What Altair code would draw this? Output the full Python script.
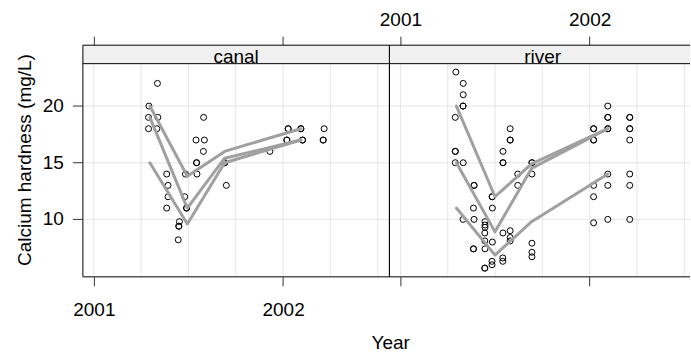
import altair as alt
import pandas as pd

FONT = "Liberation Sans"

# ---- canal sites: sampling date (decimal year) and calcium hardness (mg/L)
canal_year = [
    2001.291, 2001.289, 2001.289,
    2001.336, 2001.338, 2001.333,
    2001.385, 2001.392, 2001.392, 2001.385,
    2001.452, 2001.449, 2001.449, 2001.446,
    2001.484, 2001.480, 2001.490, 2001.490,
    2001.540, 2001.543, 2001.543, 2001.545,
    2001.580, 2001.584, 2001.579,
    2001.691, 2001.691, 2001.700,
    2001.930,
    2002.027, 2002.027, 2002.020, 2002.020,
    2002.094, 2002.094, 2002.103, 2002.103,
    2002.217, 2002.212, 2002.212,
]
canal_ca = [
    20, 19, 18,
    22, 19, 18,
    14, 13, 12, 11,
    9.8, 9.4, 9.4, 8.2,
    14, 12, 11, 11,
    17, 15, 15, 14,
    19, 17, 16,
    15, 15, 13,
    16,
    18, 18, 17, 17,
    18, 18, 17, 17,
    18, 17, 17,
]

# ---- river sites
river_year = [
    2001.293, 2001.290, 2001.290, 2001.290, 2001.290,
    2001.332, 2001.332, 2001.331, 2001.331, 2001.332, 2001.331,
    2001.389, 2001.389, 2001.386, 2001.389, 2001.386, 2001.386,
    2001.447, 2001.447, 2001.447, 2001.446, 2001.446, 2001.447, 2001.446, 2001.446,
    2001.485, 2001.485, 2001.486, 2001.486, 2001.484, 2001.484,
    2001.542, 2001.542, 2001.542, 2001.542, 2001.541, 2001.541,
    2001.580, 2001.580, 2001.580, 2001.580, 2001.580, 2001.580,
    2001.620, 2001.620,
    2001.695, 2001.695, 2001.695, 2001.695, 2001.695, 2001.695,
    2002.021, 2002.021, 2002.021, 2002.021, 2002.021, 2002.021, 2002.021,
    2002.096, 2002.096, 2002.096, 2002.096, 2002.096, 2002.096, 2002.096, 2002.096,
    2002.212, 2002.212, 2002.212, 2002.212, 2002.212, 2002.212, 2002.212, 2002.212,
]
river_ca = [
    23, 19, 16, 16, 15,
    22, 21, 20, 20, 15, 10,
    13, 13, 11, 10, 7.4, 7.4,
    9.8, 9.5, 9.3, 8.8, 8.1, 7.4, 5.7, 5.7,
    12, 12, 11, 8.0, 6.3, 6.0,
    16, 15, 15, 8.8, 6.6, 6.3,
    18, 17, 17, 9.0, 8.4, 8.1,
    14, 13,
    15, 15, 14, 7.9, 7.1, 6.7,
    18, 18, 17, 17, 13, 12, 9.7,
    20, 19, 19, 18, 18, 14, 13, 10,
    19, 19, 18, 18, 17, 14, 13, 10,
]

# ---- per-site trend lines
canal_line_site = [1, 1, 1, 1, 2, 2, 2, 2, 3, 3, 3, 3]
canal_line_year = [2001.296, 2001.494, 2001.691, 2002.094] * 3
canal_line_ca = [20, 13.8, 16.0, 18,
                 19, 11.0, 15.4, 17,
                 15, 9.6, 15.0, 17]

river_line_site = [1, 1, 1, 1, 2, 2, 2, 2, 3, 3, 3, 3]
river_line_year = [2001.296, 2001.500, 2001.693, 2002.096] * 3
river_line_ca = [20, 12.0, 14.9, 18,
                 15, 8.9, 14.5, 18,
                 11, 6.85, 9.8, 14]

grid_years = [2001.0, 2001.25, 2001.5, 2001.75, 2002.0, 2002.25, 2002.5]
grid_ca = [10, 15, 20]
tick_years = [2001, 2002]
tick_ca = [10, 15, 20]
y_title = "Calcium hardness (mg/L)"

# ---- panel geometry
PX_PER_YEAR = 189.5
X_START = 2000.942
PANEL_W = 307
RIVER_W = 301
PANEL_H = 232
STRIP_H = 18.5
Y_LO, Y_HI = 4.93, 25.37
STRIP_BASE = Y_HI - STRIP_H * (Y_HI - Y_LO) / PANEL_H

GRID = "#e6e6e6"
LINE = "#a0a0a0"
TICK = "#333333"


def panel(label, years, ca, l_site, l_year, l_ca, width, first):
    xs = alt.Scale(domain=[X_START, X_START + width / PX_PER_YEAR], nice=False, zero=False)
    ys = alt.Scale(domain=[Y_LO, Y_HI], nice=False, zero=False)

    common = dict(values=tick_years, format="d", tickSize=9, tickColor=TICK,
                  domain=False, grid=False, labelFont=FONT, labelFontSize=19,
                  labelColor="black", labelBaseline="alphabetic")
    if first:
        bottom_axis = alt.Axis(orient="bottom", labels=True, labelPadding=29.5,
                               title="Year", titleFont=FONT, titleFontSize=19,
                               titleFontWeight="normal", titleColor="black",
                               titleX=307.7, titleY=71.3, titleAlign="center",
                               titleBaseline="alphabetic", **common)
        top_axis = alt.Axis(orient="top", labels=False, title="", **common)
    else:
        bottom_axis = alt.Axis(orient="bottom", labels=False, title="", **common)
        top_axis = alt.Axis(orient="top", labels=True, labelPadding=10.3,
                            title="", **common)

    pts_df = pd.DataFrame({"year": years, "ca": ca})
    line_df = pd.DataFrame({"site": l_site, "year": l_year, "ca": l_ca})
    frame = pd.DataFrame({"panel": [label]})

    hgrid = alt.Chart(pd.DataFrame({"ca": grid_ca})).mark_rule(
        color=GRID, strokeWidth=1
    ).encode(
        y=alt.Y("ca:Q", scale=ys, axis=None),
        x=alt.value(0),
        x2=alt.value(width),
    )
    vgrid = alt.Chart(pd.DataFrame({"year": grid_years})).mark_rule(
        color=GRID, strokeWidth=1
    ).encode(
        x=alt.X("year:Q", scale=xs, axis=top_axis),
        y=alt.YDatum(Y_LO, type="quantitative", scale=ys, axis=None),
        y2=alt.Y2Datum(STRIP_BASE),
    )
    strip = alt.Chart(frame).mark_rect(fill="#f0f0f0").encode(
        x=alt.value(0), x2=alt.value(width), y=alt.value(0), y2=alt.value(STRIP_H)
    )
    strip_text = alt.Chart(frame).mark_text(
        font=FONT, fontSize=19, color="black", align="center", baseline="alphabetic"
    ).encode(text="panel:N", x=alt.value(PANEL_W / 2), y=alt.value(18.3))

    points = alt.Chart(pts_df).mark_point(
        shape="circle", filled=False, color="black", size=36, strokeWidth=1, opacity=1
    ).encode(
        x=alt.X("year:Q", scale=xs, axis=bottom_axis),
        y=alt.Y("ca:Q", scale=ys, axis=None),
    )
    trends = alt.Chart(line_df).mark_line(
        color=LINE, strokeWidth=3, strokeCap="round", strokeJoin="round"
    ).encode(
        x=alt.X("year:Q", scale=xs, axis=None),
        y=alt.Y("ca:Q", scale=ys, axis=None),
        detail="site:N",
    )

    def hline(ypx):
        return alt.Chart(frame).mark_rule(color="black", strokeWidth=1).encode(
            x=alt.value(0), x2=alt.value(width), y=alt.value(ypx))

    def vline(xpx):
        return alt.Chart(frame).mark_rule(color="black", strokeWidth=1).encode(
            x=alt.value(xpx), y=alt.value(0), y2=alt.value(PANEL_H))

    layers = [hgrid, vgrid, strip, strip_text, points, trends,
              hline(0), hline(STRIP_H), hline(PANEL_H), vline(0)]

    if first:
        layers.append(vline(width))
        # left value axis: ticks, labels and title
        ticks_df = pd.DataFrame({"ca": tick_ca})
        y_ticks = alt.Chart(ticks_df).mark_rule(color=TICK, strokeWidth=1).encode(
            y=alt.Y("ca:Q", scale=ys, axis=None), x=alt.value(-10), x2=alt.value(0))
        y_labels = alt.Chart(ticks_df).mark_text(
            font=FONT, fontSize=19, color="black", align="right", baseline="middle"
        ).encode(
            y=alt.Y("ca:Q", scale=ys, axis=None),
            x=alt.value(-19),
            text=alt.Text("ca:Q", format="d"),
        )
        y_name = alt.Chart(pd.DataFrame({"t": [y_title]})).mark_text(
            font=FONT, fontSize=19, color="black", align="center",
            baseline="alphabetic", angle=270
        ).encode(text="t:N", x=alt.value(-52), y=alt.value(115))
        layers += [y_ticks, y_labels, y_name]

    return alt.layer(*layers).properties(width=width, height=PANEL_H)


canal = panel("canal", canal_year, canal_ca, canal_line_site, canal_line_year,
              canal_line_ca, PANEL_W, True)
river = panel("river", river_year, river_ca, river_line_site, river_line_year,
              river_line_ca, RIVER_W, False)

chart = alt.hconcat(canal, river, spacing=0, bounds="flush").properties(
    padding={"left": 15, "top": 10, "right": 0, "bottom": 0},
    background="white",
).configure_view(stroke="transparent")

chart.save("out.html", embed_options={"renderer": "svg", "actions": False})
